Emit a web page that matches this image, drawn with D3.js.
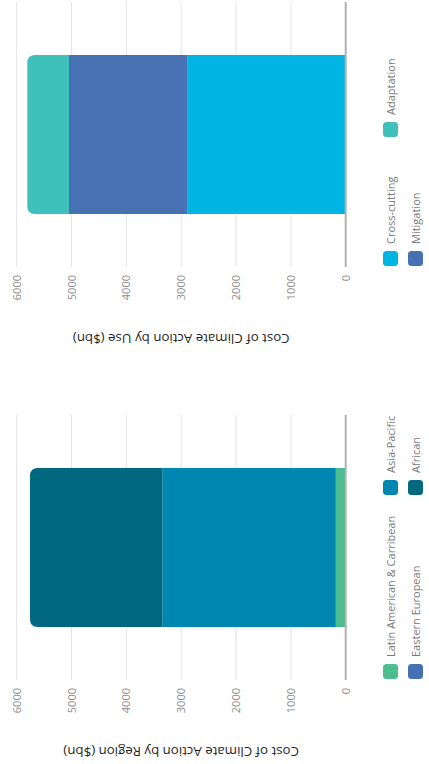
<!DOCTYPE html>
<html>
<head>
<meta charset="utf-8">
<script src="https://cdn.jsdelivr.net/npm/d3@7"></script>
<style>
  html, body { margin: 0; padding: 0; background: #fff; }
  svg { display: block; font-family: "Open Sans", "Noto Sans", sans-serif; }
</style>
</head>
<body>
<svg id="chart" width="429" height="764"></svg>
<script>
// ---- data ----
const regionTitle = "Cost of Climate Action by Region ($bn)";
const regionSeries = ["Latin American & Carribean", "Eastern European", "Asia-Pacific", "African"];
const regionValues = [180, 0, 3165, 2413];
const regionColors = ["#4bbd8f", "#4672b4", "#0087b1", "#00687f"];

const useTitle = "Cost of Climate Action by Use ($bn)";
const useSeries = ["Cross-cutting", "Mitigation", "Adaptation"];
const useValues = [2882, 2164, 761];
const useColors = ["#00b5e3", "#4672b4", "#40c0bb"];

const tickValues = [0, 1000, 2000, 3000, 4000, 5000, 6000];

// ---- layout (drawn on a 764 x 429 canvas, then turned a quarter turn) ----
const svg = d3.select("#chart");
const root = svg.append("g").attr("transform", `translate(0,764) rotate(-90)`);

const y = d3.scaleLinear().domain([0, 6000]).range([345.7, 16.7]);

function panel(offset, title, series, values, colors, legendColGap) {
  const g = root.append("g").attr("transform", `translate(${offset},0)`);
  const plotL = 84, plotR = 349;
  const x = d3.scaleBand().domain(["Total"]).range([plotL, plotR]).padding(0.25);

  // gridlines
  g.append("g").selectAll("line")
    .data(tickValues.filter(t => t > 0))
    .join("line")
    .attr("x1", plotL).attr("x2", plotR)
    .attr("y1", d => y(d)).attr("y2", d => y(d))
    .attr("stroke", "#e4e4e4").attr("stroke-width", 1);

  // tick labels
  const axis = d3.axisLeft(y).tickValues(tickValues).tickSize(0).tickPadding(0).tickFormat(d3.format("d"));
  const ax = g.append("g").attr("transform", `translate(76,0)`).call(axis);
  ax.select(".domain").remove();
  ax.selectAll("text")
    .attr("fill", "#8c8c8c")
    .style("font-size", "11px")
    .style("font-family", "'Open Sans', sans-serif");

  // stacked bar
  const stackData = [Object.fromEntries(series.map((s, i) => [s, values[i]]))];
  const stacked = d3.stack().keys(series)(stackData);
  const bw = x.bandwidth(), bx = x("Total");
  const r = 8;
  const lastIdx = series.length - 1;
  stacked.forEach((layer, i) => {
    const y0 = y(layer[0][0]), y1 = y(layer[0][1]);
    if (y0 - y1 <= 0) return;
    if (i === lastIdx) {
      const p = d3.path();
      p.moveTo(bx, y0);
      p.lineTo(bx, y1 + r);
      p.quadraticCurveTo(bx, y1, bx + r, y1);
      p.lineTo(bx + bw - r, y1);
      p.quadraticCurveTo(bx + bw, y1, bx + bw, y1 + r);
      p.lineTo(bx + bw, y0);
      p.closePath();
      g.append("path").attr("d", p.toString()).attr("fill", colors[i]);
    } else {
      g.append("rect")
        .attr("x", bx).attr("width", bw)
        .attr("y", y1).attr("height", y0 - y1)
        .attr("fill", colors[i]);
    }
  });

  // zero line
  g.append("line")
    .attr("x1", plotL).attr("x2", plotR)
    .attr("y1", y(0)).attr("y2", y(0))
    .attr("stroke", "#b0b0b0").attr("stroke-width", 2);

  // axis title
  g.append("text")
    .attr("transform", `translate(12,${(y(0) + y(6000)) / 2}) rotate(-90)`)
    .attr("text-anchor", "middle")
    .attr("dominant-baseline", "central")
    .attr("fill", "#1f1f1f")
    .style("font-size", "13.3px")
    .text(title);

  // legend: two rows, filled column by column
  const lg = g.append("g");
  series.forEach((s, i) => {
    const col = Math.floor(i / 2), row = i % 2;
    const lx = 85 + col * legendColGap;
    const ly = 383 + row * 25;
    lg.append("rect")
      .attr("x", lx).attr("y", ly).attr("width", 15).attr("height", 15)
      .attr("rx", 3.5).attr("fill", colors[i]);
    lg.append("text")
      .attr("x", lx + 22).attr("y", ly + 7.5)
      .attr("dominant-baseline", "central")
      .attr("fill", "#7a7a7a")
      .style("font-size", "11px")
      .text(s);
  });
}

panel(0, regionTitle, regionSeries, regionValues, regionColors, 184);
panel(413, useTitle, useSeries, useValues, useColors, 129);
</script>
</body>
</html>
